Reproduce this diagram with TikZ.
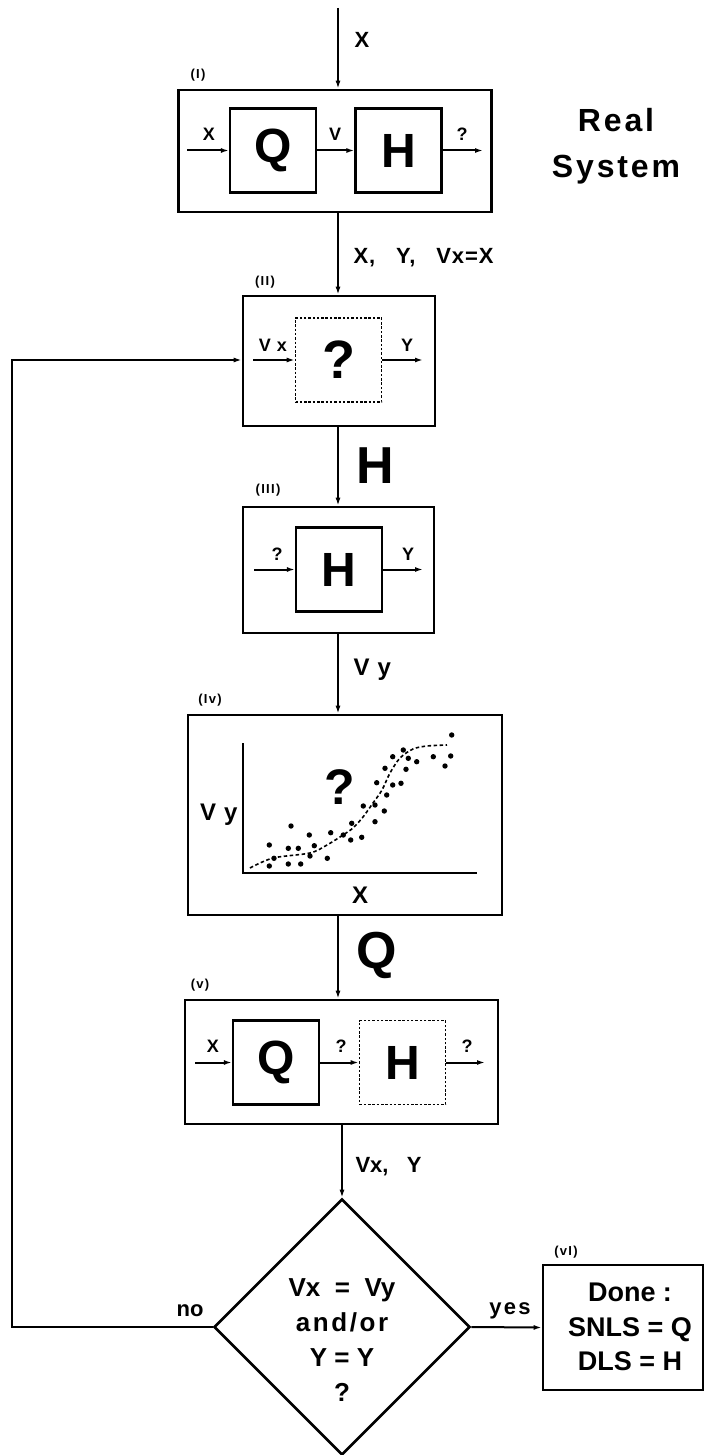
\documentclass[tikz,border=0pt]{standalone}
\usepackage{fontspec}
\setmainfont{Liberation Sans}
\usetikzlibrary{arrows.meta,shapes.geometric}
\begin{document}
\begin{tikzpicture}[x=1pt,y=-1pt,
  box/.style={draw, line width=2.6pt, inner sep=0pt},
  inbox/.style={draw, line width=2.2pt, inner sep=0pt, minimum width=86pt, minimum height=84pt},
  dbox/.style={draw, line width=1.6pt, dash pattern=on 2.5pt off 1.8pt, inner sep=0pt, minimum width=86pt, minimum height=84pt},
  arr/.style={line width=2pt, -{Latex[length=8pt,width=5pt]}},
  big/.style={font=\fontsize{48}{48}\selectfont\bfseries},
  sm/.style={font=\fontsize{18}{18}\selectfont\bfseries},
  tag/.style={font=\fontsize{13}{13}\selectfont\bfseries\addfontfeatures{LetterSpace=10}},
  lab/.style={font=\fontsize{22}{22}\selectfont\bfseries},
  vy/.style={font=\fontsize{24}{24}\selectfont\bfseries},
  mid/.style={font=\fontsize{26}{35}\selectfont\bfseries, align=center},
  pt/.style={fill=black},
]
\useasboundingbox (0,0) rectangle (706,1455);

% ---------- (I) real system
\node[box, minimum width=313pt, minimum height=122pt] (b1) at (335,151) {};
\node[tag] (t1) at (198,75) {(I)};
\coordinate (top) at (338,8);
\draw[arr] (top) -- (top |- b1.north);
\node[lab] (lx) at (362,40) {X};
\node[inbox, big] (q1) at (273,150.5) {Q};
\node[inbox, big] (h1) at (398.5,150.5) {H};
\coordinate (i1) at (187,150.5);
\coordinate (o1) at (483,150.5);
\draw[arr] (i1) -- (q1.west);
\draw[arr] (q1.east) -- (h1.west);
\draw[arr] (h1.east) -- (o1);
\node[sm] (l1a) at (209,134) {X};
\node[sm] (l1b) at (335,134) {V};
\node[sm] (l1c) at (462,134) {?};
\node[font=\fontsize{32}{46}\selectfont\bfseries\addfontfeatures{LetterSpace=9}, align=center] (rs) at (616,146) {Real\\System};

% ---------- (II)
\node[box, minimum width=192pt, minimum height=130pt] (b2) at (339,361) {};
\node[tag] (t2) at (265,282) {(II)};
\draw[arr] (top |- b1.south) -- (top |- b2.north);
\node[lab, anchor=west] (l12) at (350,258) {\addfontfeatures{LetterSpace=4}X,\ \ \ Y,\ \ \ Vx=X};
\node[dbox, font=\fontsize{54}{54}\selectfont\bfseries] (d2) at (338.5,360) {?};
\coordinate (i2) at (253,360);
\coordinate (o2) at (423,360);
\draw[arr] (i2) -- (d2.west);
\draw[arr] (d2.east) -- (o2);
\node[sm] (l2a) at (273,345) {V\,\,x};
\node[sm] (l2b) at (407,345) {Y};

% ---------- (III)
\node[box, minimum width=191pt, minimum height=126pt] (b3) at (338.5,570) {};
\node[tag] (t3) at (268,490) {(III)};
\draw[arr] (top |- b2.south) -- (top |- b3.north);
\node[font=\fontsize{52}{52}\selectfont\bfseries] (lh) at (375,466) {H};
\node[inbox, big] (h3) at (339,569.5) {H};
\coordinate (i3) at (254,569.5);
\coordinate (o3) at (423,569.5);
\draw[arr] (i3) -- (h3.west);
\draw[arr] (h3.east) -- (o3);
\node[sm] (l3a) at (277,554) {?};
\node[sm] (l3b) at (408,554) {Y};

% ---------- (IV)
\node[box, minimum width=314pt, minimum height=200pt] (b4) at (345,815) {};
\node[tag] (t4) at (210,700) {(Iv)};
\draw[arr] (top |- b3.south) -- (top |- b4.north);
\node[vy, anchor=west] (l34) at (350,670) {V\,\,y};
\coordinate (ax0) at (243,873);
\coordinate (axy) at (243,743);
\coordinate (axx) at (477,873);
\draw[line width=2pt] (axy) -- (ax0) -- (axx);
\node[vy, anchor=east] (avy) at (241,815) {V\,\,y};
\node[vy] (ax) at (360,895) {X};
\node[font=\fontsize{50}{50}\selectfont\bfseries] (pq) at (340,787) {?};
\draw[line width=1.6pt, dash pattern=on 3.5pt off 2.5pt] plot[smooth] coordinates {
 (250,868) (273,858) (310,853) (327,845) (343,835) (353,828) (363,817)
 (373,803) (382,790) (390,773) (400,758) (413,749) (427,746) (447,745)};
\foreach \p in {(451.7,735),(403.3,750),(392.7,756.7),(408.3,758.3),(416.7,761.7),
 (433.3,756.7),(450.7,756),(445,766),(385,768.3),(406,769.3),(376.7,782.7),
 (392.7,785),(401,783.3),(386.7,795),(363.3,806),(375,805),(384.3,811),
 (375,821.7),(351.7,823.3),(361.7,837.3),(350.7,840),(343.3,835),(330.7,832.7),
 (309.3,835),(291,826),(269.3,845),(288.3,848.3),(298.3,848.3),(314.3,845.7),
 (310,856),(327.3,858.3),(274,858.3),(288.3,864),(300.7,864),(269.3,866)}
 \fill[pt] \p circle (2.7pt);

% ---------- (V)
\node[box, minimum width=313pt, minimum height=124pt] (b5) at (341.5,1062) {};
\node[tag] (t5) at (200,985) {(v)};
\draw[arr] (top |- b4.south) -- (top |- b5.north);
\node[font=\fontsize{52}{52}\selectfont\bfseries] (lq) at (377,955) {Q};
\node[inbox, big] (q5) at (276,1062.5) {Q};
\node[dbox, big] (d5) at (402.5,1062.5) {H};
\coordinate (i5) at (195,1062.5);
\coordinate (o5) at (485,1062.5);
\draw[arr] (i5) -- (q5.west);
\draw[arr] (q5.east) -- (d5.west);
\draw[arr] (d5.east) -- (o5);
\node[sm] (l5a) at (213,1046) {X};
\node[sm] (l5b) at (341,1046) {?};
\node[sm] (l5c) at (467,1046) {?};

% ---------- decision
\node[diamond, draw, line width=2.6pt, minimum width=256pt, minimum height=256pt, inner sep=0pt] (dia) at (342,1327) {};
\node[mid] (dt) at (342,1340) {Vx\ \ =\ \ Vy\\{\addfontfeatures{LetterSpace=10}and/or}\\Y = Y\\?};
\draw[arr] (dia.north |- b5.south) -- (dia.north);
\node[lab, anchor=west] (l5d) at (352,1167) {Vx,\ \ \ Y};

% ---------- (VI)
\node[box, minimum width=160pt, minimum height=125pt] (b6) at (623,1327.5) {};
\node[tag] (t6) at (566,1252) {(vI)};
\node[font=\fontsize{27}{34.5}\selectfont\bfseries, align=center] (dn) at (630,1327) {Done :\\SNLS = Q\\DLS = H};
\draw[arr] (dia.east) -- (b6.west);
\node[font=\fontsize{22}{22}\selectfont\bfseries\addfontfeatures{LetterSpace=10}] (ly) at (510,1311) {yes};

% ---------- feedback
\coordinate (fl) at (12,1327);
\coordinate (fu) at (12,360);
\draw[arr] (dia.west) -- (fl) -- (fu) -- (b2.west |- fu);
\node[lab] (ln) at (190,1311) {no};
\end{tikzpicture}
\end{document}
